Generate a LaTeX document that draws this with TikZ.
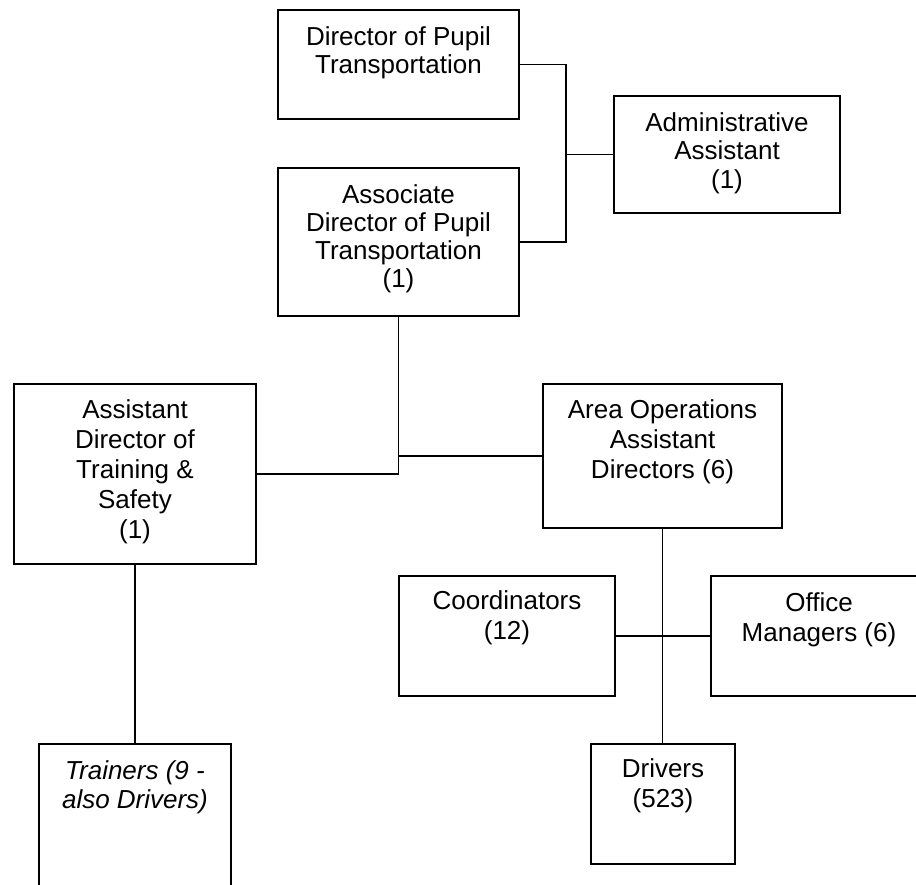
\documentclass[tikz,border=0pt]{standalone}
\usepackage{fontspec}
\setmainfont{Liberation Sans}
\usetikzlibrary{calc}
\begin{document}
\begin{tikzpicture}[x=1pt,y=-1pt,
  box/.style={draw, line width=2pt, inner sep=0pt, anchor=north west},
  link/.style={line width=1.6pt},
  % labels hang from the box top: a 20pt strut fixes the first baseline
  lbl/.style={anchor=north, align=center, inner sep=0pt,
              execute at begin node={\rule{0pt}{20pt}},
              font=\fontsize{26}{28.3}\selectfont},
  lbllow/.style={lbl, font=\fontsize{26}{30}\selectfont}]
\useasboundingbox (0,0) rectangle (916,885);
\fill[white] (0,0) rectangle (916,885);
\clip (0,0) rectangle (916,885);

% boxes
\node[box, minimum width=241pt, minimum height=109pt] (dir)      at (277,9)   {};
\node[box, minimum width=226pt, minimum height=117pt] (admin)    at (613,95)  {};
\node[box, minimum width=241pt, minimum height=148pt] (assoc)    at (277,167) {};
\node[box, minimum width=242pt, minimum height=180pt] (asst)     at (13,383)  {};
\node[box, minimum width=239pt, minimum height=144pt] (area)     at (542,383) {};
\node[box, minimum width=216pt, minimum height=120pt] (coord)    at (398,575) {};
\node[box, minimum width=216pt, minimum height=120pt] (office)   at (710,575) {};
\node[box, minimum width=144pt, minimum height=120pt] (drivers)  at (590,743) {};
\node[box, minimum width=192pt, minimum height=170pt] (trainers) at (38,743)  {};

% labels (offset = first baseline below box top, minus the 20pt strut)
\node[lbl] (dir-t)    at ($(dir.north)+(0,17)$)    {Director of Pupil\\Transportation};
\node[lbl] (admin-t)  at ($(admin.north)+(0,17.5)$) {Administrative\\Assistant\\(1)};
\node[lbl] (assoc-t)  at ($(assoc.north)+(0,17)$)  {Associate\\Director of Pupil\\Transportation\\(1)};
\node[lbllow] (asst-t) at ($(asst.north)+(0,16)$)  {Assistant\\Director of\\Training \&\\Safety\\(1)};
\node[lbllow] (area-t) at ($(area.north)+(0,16)$)  {Area Operations\\Assistant\\Directors (6)};
\node[lbllow] (coord-t) at ($(coord.north)+(0,15)$) {Coordinators\\(12)};
\node[lbllow] (office-t) at ($(office.north)+(0,17)$) {Office\\Managers (6)};
\node[lbllow] (drivers-t) at ($(drivers.north)+(0,15)$) {Drivers\\(523)};
\node[lbllow, font=\fontsize{26}{29}\selectfont\itshape] (trainers-t) at ($(trainers.north)+(0,17)$) {Trainers (9 -\\also Drivers)};

% connectors
\coordinate (j1) at (566,0);
\draw[link] (dir.east) -- (dir.east -| j1) -- (j1 |- assoc.east) -- (assoc.east);
\draw[link] (admin.west) -- (admin.west -| j1);
\draw[link] (assoc.south) |- (asst.east);
\draw[link] (area.west) -- (area.west -| assoc.south);
\draw[link] (area.south) -- (area.south |- drivers.north);
\draw[link] (coord.east) -- (office.west);
\draw[link] (asst.south) -- (trainers.north);
\end{tikzpicture}
\end{document}
